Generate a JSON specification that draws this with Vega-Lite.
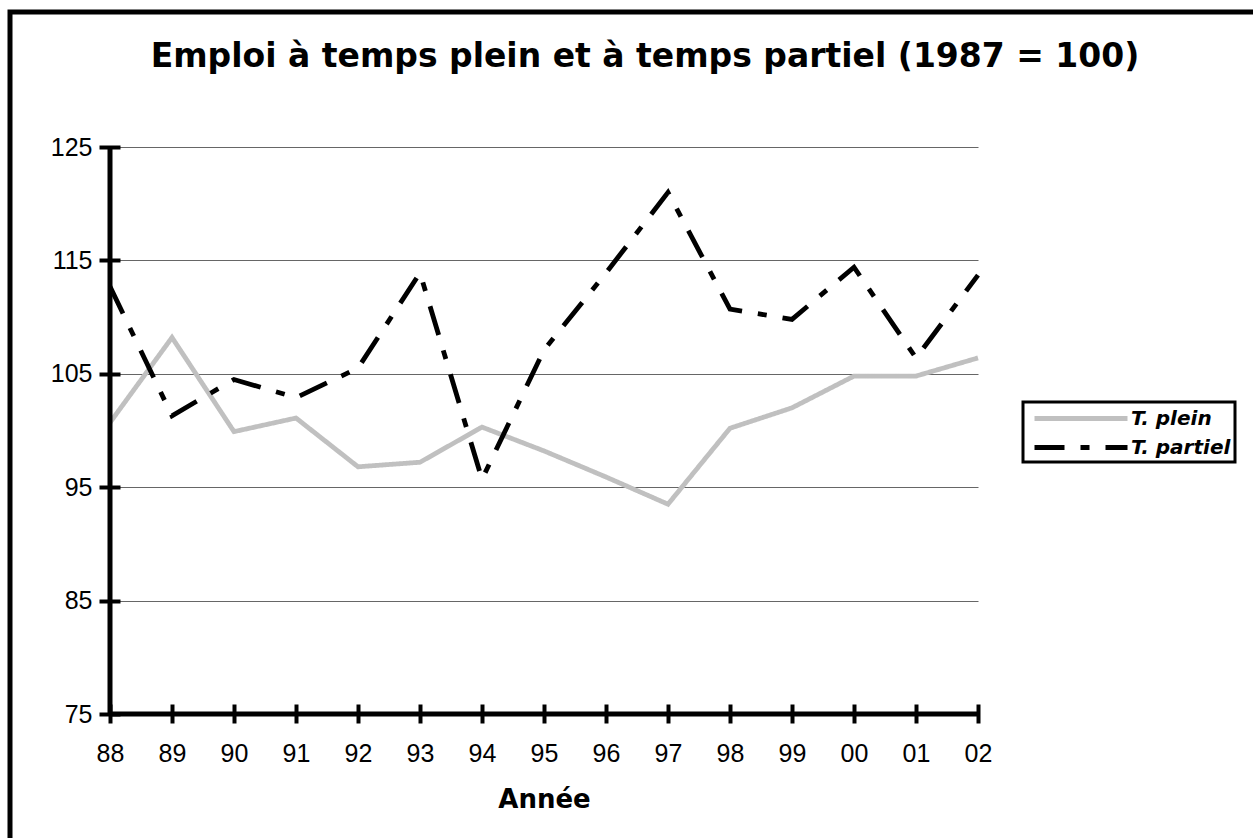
{
  "$schema": "https://vega.github.io/schema/vega-lite/v6.json",
  "width": 1250,
  "height": 835,
  "autosize": {"type": "none"},
  "padding": {"left": 10, "top": 12, "right": -7, "bottom": -9},
  "background": "white",
  "config": {
    "view": {"stroke": "black", "strokeWidth": 5, "fill": "white"},
    "legend": {"strokeColor": "black", "strokeWidth": 3}
  },
  "title": {
    "text": "Emploi à temps plein et à temps partiel (1987 = 100)",
    "font": "DejaVu Sans",
    "fontSize": 33,
    "fontWeight": "bold",
    "color": "black",
    "anchor": "middle",
    "frame": "group",
    "dx": 10,
    "dy": 66
  },
  "layer": [
    {
      "data": {
        "values": [
          {"annee": "88", "serie": "T. plein", "valeur": 100.7},
          {"annee": "89", "serie": "T. plein", "valeur": 108.2},
          {"annee": "90", "serie": "T. plein", "valeur": 99.9},
          {"annee": "91", "serie": "T. plein", "valeur": 101.1},
          {"annee": "92", "serie": "T. plein", "valeur": 96.8},
          {"annee": "93", "serie": "T. plein", "valeur": 97.2},
          {"annee": "94", "serie": "T. plein", "valeur": 100.3},
          {"annee": "95", "serie": "T. plein", "valeur": 98.2},
          {"annee": "96", "serie": "T. plein", "valeur": 95.9},
          {"annee": "97", "serie": "T. plein", "valeur": 93.5},
          {"annee": "98", "serie": "T. plein", "valeur": 100.2},
          {"annee": "99", "serie": "T. plein", "valeur": 102.0},
          {"annee": "00", "serie": "T. plein", "valeur": 104.8},
          {"annee": "01", "serie": "T. plein", "valeur": 104.8},
          {"annee": "02", "serie": "T. plein", "valeur": 106.4},
          {"annee": "88", "serie": "T. partiel", "valeur": 112.7},
          {"annee": "89", "serie": "T. partiel", "valeur": 101.3},
          {"annee": "90", "serie": "T. partiel", "valeur": 104.5},
          {"annee": "91", "serie": "T. partiel", "valeur": 102.9},
          {"annee": "92", "serie": "T. partiel", "valeur": 105.5},
          {"annee": "93", "serie": "T. partiel", "valeur": 113.9},
          {"annee": "94", "serie": "T. partiel", "valeur": 95.7},
          {"annee": "95", "serie": "T. partiel", "valeur": 107.1},
          {"annee": "96", "serie": "T. partiel", "valeur": 113.9},
          {"annee": "97", "serie": "T. partiel", "valeur": 121.0},
          {"annee": "98", "serie": "T. partiel", "valeur": 110.7},
          {"annee": "99", "serie": "T. partiel", "valeur": 109.8},
          {"annee": "00", "serie": "T. partiel", "valeur": 114.4},
          {"annee": "01", "serie": "T. partiel", "valeur": 106.4},
          {"annee": "02", "serie": "T. partiel", "valeur": 113.7}
        ]
      },
      "mark": {"type": "line", "strokeWidth": 4.8},
      "encoding": {
        "x": {
          "field": "annee",
          "type": "ordinal",
          "sort": ["88","89","90","91","92","93","94","95","96","97","98","99","00","01","02"],
          "scale": {
            "type": "point",
            "domain": ["88","89","90","91","92","93","94","95","96","97","98","99","00","01","02"],
            "range": [100, 968],
            "padding": 0
          },
          "axis": {
            "orient": "bottom",
            "offset": -143,
            "domain": false,
            "tickSize": 19,
            "tickWidth": 4,
            "tickColor": "black",
            "labelFont": "Liberation Sans",
            "labelFontSize": 25,
            "labelColor": "black",
            "labelPadding": 18,
            "labelAngle": 0,
            "grid": false,
            "title": "Année",
            "titleFont": "DejaVu Sans",
            "titleFontSize": 26,
            "titleFontWeight": "bold",
            "titleColor": "black",
            "titlePadding": 20
          }
        },
        "y": {
          "field": "valeur",
          "type": "quantitative",
          "scale": {"domain": [75, 125], "range": [702, 135], "nice": false, "zero": false},
          "axis": {
            "values": [75, 85, 95, 105, 115, 125],
            "offset": -110,
            "domain": false,
            "tickSize": 21,
            "tickWidth": 4,
            "tickColor": "black",
            "labelFont": "Liberation Sans",
            "labelFontSize": 25,
            "labelColor": "black",
            "labelPadding": 7,
            "grid": true,
            "gridColor": "#666666",
            "gridWidth": 1,
            "title": null
          }
        },
        "color": {
          "field": "serie",
          "type": "nominal",
          "scale": {"domain": ["T. plein", "T. partiel"], "range": ["#c0c0c0", "#000000"]},
          "legend": {
            "title": null,
            "orient": "none",
            "legendX": 1013,
            "legendY": 390,
            "symbolType": "M-8.3,0H1",
            "symbolSize": 400,
            "symbolStrokeWidth": 4.8,
            "symbolOffset": 78,
            "labelOffset": 1,
            "labelFont": "DejaVu Sans",
            "labelFontSize": 20,
            "labelFontWeight": "bold",
            "labelFontStyle": "italic",
            "labelColor": "black",
            "labelExpr": "datum.label + '\u00a0\u00a0\u00a0'",
            "rowPadding": 6,
            "padding": 4,
            "strokeColor": "black",
            "fillColor": "white"
          }
        },
        "strokeDash": {
          "field": "serie",
          "type": "nominal",
          "scale": {"domain": ["T. plein", "T. partiel"], "range": [[1, 0], [30, 16, 9, 16]]},
          "legend": {
            "title": null,
            "orient": "none",
            "legendX": 1013,
            "legendY": 390,
            "symbolType": "M-8.3,0H1",
            "symbolSize": 400,
            "symbolStrokeWidth": 4.8,
            "symbolOffset": 78,
            "labelOffset": 1,
            "labelFont": "DejaVu Sans",
            "labelFontSize": 20,
            "labelFontWeight": "bold",
            "labelFontStyle": "italic",
            "labelColor": "black",
            "labelExpr": "datum.label + '\u00a0\u00a0\u00a0'",
            "rowPadding": 6,
            "padding": 4,
            "strokeColor": "black",
            "fillColor": "white"
          }
        }
      }
    },
    {
      "data": {"values": [{}]},
      "mark": {"type": "rule", "color": "black", "strokeWidth": 5},
      "encoding": {"x": {"datum": "88"}, "y": {"datum": 75}, "y2": {"datum": 125}}
    },
    {
      "data": {"values": [{}]},
      "mark": {"type": "rule", "color": "black", "strokeWidth": 5},
      "encoding": {"x": {"datum": "88"}, "x2": {"datum": "02"}, "y": {"datum": 75}}
    }
  ]
}
